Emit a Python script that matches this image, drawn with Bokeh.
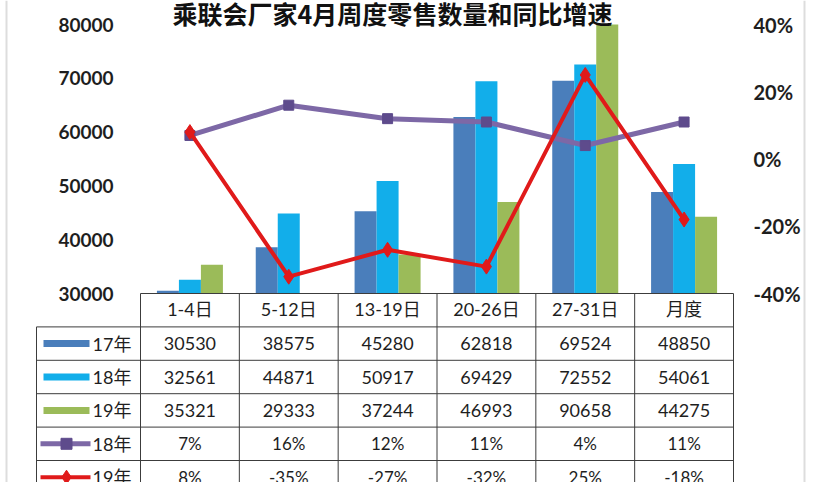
import numpy as np
from bokeh.plotting import figure
from bokeh.models import (Range1d, LinearAxis, FixedTicker, NumeralTickFormatter,
                          PrintfTickFormatter)
from bokeh.core.properties import value
from bokeh.embed import file_html
from bokeh.resources import INLINE

# ---------------- data ----------------
title_text = "乘联会厂家4月周度零售数量和同比增速"
periods = ["1-4日", "5-12日", "13-19日", "20-26日", "27-31日", "月度"]
sales_17 = [30530, 38575, 45280, 62818, 69524, 48850]
sales_18 = [32561, 44871, 50917, 69429, 72552, 54061]
sales_19 = [35321, 29333, 37244, 46993, 90658, 44275]
growth_18 = [7, 16, 12, 11, 4, 11]
growth_19 = [8, -35, -27, -32, 25, -18]
series_names = ["17年", "18年", "19年", "18年", "19年"]
left_ticks = [30000, 40000, 50000, 60000, 70000, 80000]
right_ticks = [-40, -20, 0, 20, 40]

# ---------------- styles ----------------
C17, C18, C19 = "#4A7EBB", "#12AEEA", "#9BBB59"
CP, CP_M = "#7D68A6", "#5E4B8C"
CR = "#E01A1A"
GRID = "#3C3C3C"
TXT = "#1E1E1E"
NUM_FONT_S = "Lato, Noto Sans CJK SC"
NUM_FONT = value(NUM_FONT_S)

W, H = 813, 482
X0, X1 = 140, 733                           # category area (px)
Y_TOP, Y_AX = 24, 293                       # 80000 / 30000 (px)
ROW_H = 33.4
CAT_W = (X1 - X0) / len(periods)
KY = (left_ticks[-1] - left_ticks[0]) / (Y_AX - Y_TOP)
KP = (right_ticks[-1] - right_ticks[0]) / (Y_AX - Y_TOP)

def xdata(cx):
    return -0.5 + (cx - X0) / CAT_W

def ydata(cy):
    return left_ticks[0] - (cy - Y_AX) * KY

def ypct(cy):
    return right_ticks[0] - (cy - Y_AX) * KP

def yrow(cy):
    return (cy - Y_AX) / ROW_H

idx = np.arange(len(periods))
BW = 22 / CAT_W

p = figure(width=W, height=H, x_range=Range1d(xdata(0), xdata(W)),
           y_range=Range1d(ydata(H), ydata(0)),
           output_backend="svg", toolbar_location=None,
           min_border=0)
p.outline_line_color = None
p.grid.visible = False
p.xaxis.visible = False
p.background_fill_color = "white"
p.border_fill_color = "white"
p.extra_y_ranges = {"pct": Range1d(ypct(H), ypct(0)),
                    "rows": Range1d(yrow(H), yrow(0))}

# ---------------- bars ----------------
for off, vals, col in [(-BW, sales_17, C17), (0, sales_18, C18), (BW, sales_19, C19)]:
    p.vbar(x=idx + off, top=np.clip(vals, left_ticks[0], left_ticks[-1]),
           bottom=left_ticks[0], width=BW, fill_color=col, line_color=None)

# ---------------- lines ----------------
p.line(idx, growth_18, y_range_name="pct", line_width=5, line_color=CP)
p.scatter(idx, growth_18, y_range_name="pct", marker="square", size=10,
          fill_color=CP_M, line_color=CP_M)
p.line(idx, growth_19, y_range_name="pct", line_width=4, line_color=CR)
p.scatter(idx, growth_19, y_range_name="pct", marker="diamond", size=15,
          fill_color=CR, line_color=CR)

# ---------------- axes (fixed inside the plot area) ----------------
ya = p.yaxis[0]
ya.ticker = FixedTicker(ticks=left_ticks)
ya.formatter = NumeralTickFormatter(format="0")
ya.fixed_location = xdata(X0)
ya.axis_line_color = None
ya.major_tick_line_color = None
ya.major_tick_in = 0
ya.major_tick_out = 0
ya.minor_tick_line_color = None
ya.major_label_standoff = X0 - 113
ya.major_label_text_font = NUM_FONT_S
ya.major_label_text_font_style = "bold"
ya.major_label_text_font_size = "19px"
ya.major_label_text_color = TXT

ra = LinearAxis(y_range_name="pct", ticker=FixedTicker(ticks=right_ticks),
                formatter=PrintfTickFormatter(format="%d%%"))
ra.fixed_location = xdata(X1 + 1)
ra.axis_line_color = None
ra.major_tick_line_color = None
ra.major_tick_in = 0
ra.major_tick_out = 0
ra.minor_tick_line_color = None
ra.major_label_standoff = 753 - (X1 + 1)
ra.major_label_text_font = NUM_FONT_S
ra.major_label_text_font_style = "bold"
ra.major_label_text_font_size = "20px"
ra.major_label_text_color = TXT
p.add_layout(ra, "right")

# ---------------- title ----------------
p.text(x=[xdata(392)], y=[ydata(12)], text=[title_text], text_align="center",
       text_baseline="middle", text_font=value("Noto Sans CJK SC"),
       text_font_style="bold", text_font_size="25px", text_color="#111111")

# ---------------- data table ----------------
n_rows = len(series_names)
x_tl = xdata(36)            # left border of the row-header column
hr = np.arange(0, n_rows + 1)
p.segment(x0=[-0.5] + [x_tl] * n_rows, x1=[len(periods) - 0.5] * len(hr), y0=hr, y1=hr,
          y_range_name="rows", line_color=GRID, line_width=1)
vx = list(np.arange(len(periods) + 1) - 0.5)
p.segment(x0=vx + [x_tl], x1=vx + [x_tl], y0=[0] * len(vx) + [1],
          y1=[n_rows + 1] * (len(vx) + 1),
          y_range_name="rows", line_color=GRID, line_width=1)

p.text(x=idx, y=[0.45] * len(periods), text=periods, y_range_name="rows",
       text_align="center", text_baseline="middle", text_font=NUM_FONT,
       text_font_size="18px", text_color=TXT)

rows_y = np.arange(1, n_rows + 1) + 0.5
for r, vals in enumerate([sales_17, sales_18, sales_19]):
    p.text(x=idx, y=[rows_y[r]] * len(periods), text=[str(v) for v in vals],
           y_range_name="rows", text_align="center", text_baseline="middle",
           text_font=NUM_FONT, text_font_size="18px", text_color=TXT)
for r, vals in [(3, growth_18), (4, growth_19)]:
    p.text(x=idx, y=[rows_y[r]] * len(periods), text=[f"{v}%" for v in vals],
           y_range_name="rows", text_align="center", text_baseline="middle",
           text_font=NUM_FONT, text_font_size="17px", text_color=TXT)

# row-header column: series names and legend keys
p.text(x=[xdata(131)] * n_rows, y=rows_y, text=series_names, y_range_name="rows",
       text_align="right", text_baseline="middle", text_font=NUM_FONT,
       text_font_size="18px", text_color=TXT)
key_x = xdata(66)
p.rect(x=[key_x] * 3, y=rows_y[:3], width=46, height=7, width_units="screen",
       height_units="screen", fill_color=[C17, C18, C19], line_color=None,
       y_range_name="rows")
p.segment(x0=[xdata(40)] * 2, x1=[xdata(90)] * 2, y0=rows_y[3:], y1=rows_y[3:],
          line_color=[CP, CR], line_width=[5, 4], y_range_name="rows")
p.scatter([key_x], [rows_y[3]], marker="square", size=11, fill_color=CP_M,
          line_color=CP_M, y_range_name="rows")
p.scatter([key_x], [rows_y[4]], marker="diamond", size=14, fill_color=CR,
          line_color=CR, y_range_name="rows")

# light chart border at the sides
p.segment(x0=[xdata(6), xdata(804)], x1=[xdata(6), xdata(804)],
          y0=[ydata(0)] * 2, y1=[ydata(H)] * 2, line_color="#DDDDDD", line_width=2)

open("out.html", "w").write(file_html(p, INLINE))
